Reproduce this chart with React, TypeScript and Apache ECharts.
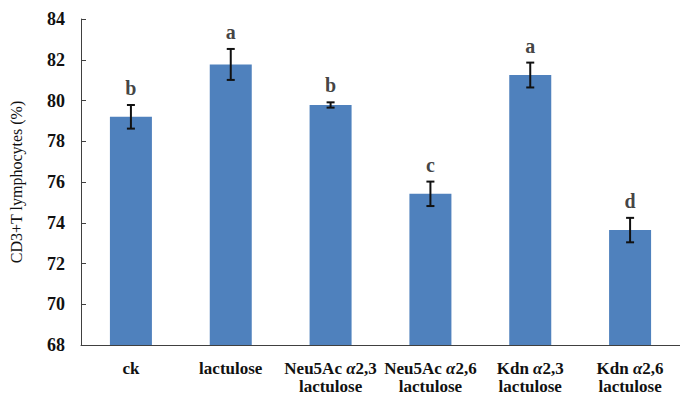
import React, { useEffect, useRef } from "react";
import * as echarts from "echarts";

const categories = [
  "ck",
  "lactulose",
  "Neu5Ac α2,3\nlactulose",
  "Neu5Ac α2,6\nlactulose",
  "Kdn α2,3\nlactulose",
  "Kdn α2,6\nlactulose",
];
const means = [79.2, 81.77, 79.78, 75.42, 81.25, 73.64];
const errors = [0.58, 0.76, 0.13, 0.6, 0.61, 0.6];
const letters = ["b", "a", "b", "c", "a", "d"];
const yTicks = [68, 70, 72, 74, 76, 78, 80, 82, 84];

const FONT = '"Liberation Serif", "Times New Roman", serif';

export default function App() {
  const ref = useRef<HTMLDivElement>(null);
  useEffect(() => {
    if (!ref.current) return;
    const chart = echarts.init(ref.current, undefined, { renderer: "svg" });
    const errData = means.map((m, i) => [i, m - errors[i], m + errors[i]]);
    chart.setOption({
      animation: false,
      grid: { left: 75, top: 19, width: 620, height: 328 },
      xAxis: {
        type: "category",
        data: categories,
        axisLine: { lineStyle: { color: "#404040", width: 1 } },
        axisTick: { show: true, inside: true, alignWithLabel: true, length: 4, lineStyle: { color: "#404040" } },
        axisLabel: {
          interval: 0,
          margin: 14,
          fontFamily: FONT,
          fontWeight: "bold",
          fontSize: 17,
          lineHeight: 18,
          color: "#111",
          formatter: (v: string) =>
            v
              .split("\n")
              .map((line) => line.replace("α", "{i|α}"))
              .join("\n"),
          rich: {
            i: {
              fontStyle: "italic",
              fontFamily: FONT,
              fontWeight: "bold",
              fontSize: 17,
              lineHeight: 18,
              color: "#111",
            },
          },
        },
      },
      yAxis: {
        type: "value",
        min: yTicks[0],
        max: yTicks[yTicks.length - 1],
        interval: 2,
        name: "CD3+T lymphocytes (%)",
        nameLocation: "middle",
        nameGap: 57,
        nameRotate: 90,
        nameTextStyle: { fontFamily: FONT, fontSize: 16, color: "#111" },
        splitLine: { show: false },
        axisLine: { show: true, lineStyle: { color: "#404040", width: 1 } },
        axisTick: { show: true, inside: true, length: 5, lineStyle: { color: "#404040" } },
        axisLabel: {
          margin: 16,
          fontFamily: FONT,
          fontWeight: "bold",
          fontSize: 18,
          color: "#111",
        },
      },
      series: [
        {
          type: "bar",
          data: means,
          barWidth: 42,
          itemStyle: { color: "#4F81BD" },
          z: 2,
        },
        {
          type: "custom",
          data: errData,
          z: 5,
          renderItem: (params: any, api: any) => {
            const x = api.value(0);
            const lo = api.coord([x, api.value(1)]);
            const hi = api.coord([x, api.value(2)]);
            const hw = 4;
            const style = { stroke: "#111", lineWidth: 2 };
            return {
              type: "group",
              children: [
                { type: "line", shape: { x1: lo[0], y1: lo[1], x2: hi[0], y2: hi[1] }, style },
                { type: "line", shape: { x1: hi[0] - hw, y1: hi[1], x2: hi[0] + hw, y2: hi[1] }, style },
                { type: "line", shape: { x1: lo[0] - hw, y1: lo[1], x2: lo[0] + hw, y2: lo[1] }, style },
              ],
            };
          },
        },
        {
          type: "scatter",
          data: means.map((m, i) => m + errors[i]),
          symbolSize: 0,
          z: 6,
          label: {
            show: true,
            position: "top",
            distance: 7,
            formatter: (p: any) => letters[p.dataIndex],
            fontFamily: FONT,
            fontWeight: "bold",
            fontSize: 20,
            color: "#111",
          },
        },
      ],
    });
    return () => chart.dispose();
  }, []);
  return <div ref={ref} style={{ width: 680, height: 395, position: "absolute", left: 0, top: 0 }} />;
}
